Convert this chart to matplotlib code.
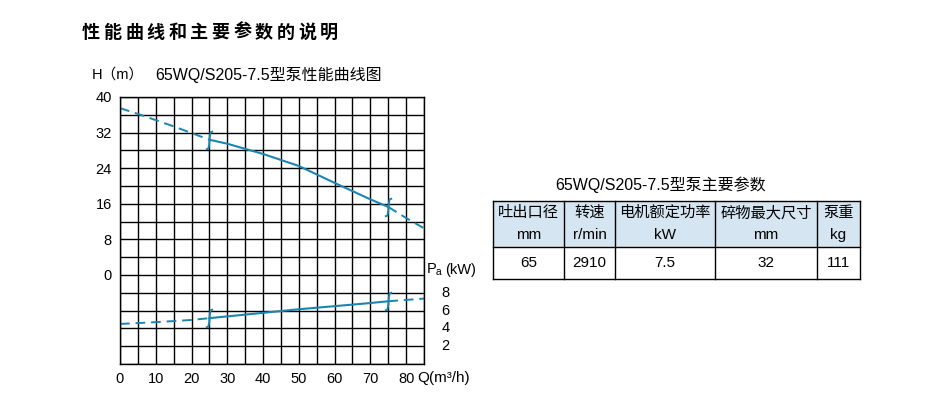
import numpy as np
import matplotlib
matplotlib.use("Agg")
import matplotlib.pyplot as plt
from matplotlib.path import Path
from matplotlib.patches import Rectangle

plt.rcParams['font.family'] = ['Liberation Sans', 'Noto Sans CJK SC', 'DejaVu Sans']
plt.rcParams['mathtext.fontset'] = 'custom'
plt.rcParams['mathtext.rm'] = 'Liberation Sans'
plt.rcParams['mathtext.it'] = 'Liberation Sans'

# performance data
q_head = [0, 5, 10, 15, 20, 25, 30, 40, 50, 60, 70, 75, 80, 85]
head = [37.5, 36.2, 34.8, 33.4, 31.9, 30.4, 29.5, 27.2, 24.5, 20.7, 17.0, 15.3, 12.8, 10.5]
q_pow = [0, 10, 20, 25, 30, 40, 50, 60, 70, 75, 80, 85]
power = [4.5, 4.7, 4.95, 5.15, 5.35, 5.75, 6.15, 6.5, 6.85, 7.05, 7.2, 7.35]
q_range = [25, 75]  # recommended working range

h_ticks = [0, 8, 16, 24, 32, 40]
p_ticks = [2, 4, 6, 8]
q_ticks = [0, 10, 20, 30, 40, 50, 60, 70, 80]

# parameter table
table_title = "65WQ/S205-7.5型泵主要参数"
col_names = ["吐出口径", "转速", "电机额定功率", "碎物最大尺寸", "泵重"]
col_units = ["mm", "r/min", "kW", "mm", "kg"]
col_values = ["65", "2910", "7.5", "32", "111"]

W, H = 927, 398
CURVE = '#1a86b0'

fig = plt.figure(figsize=(W / 100, H / 100), dpi=100)

# main chart axes, power is plotted on the lower part: H = -20 + 2 * P
ax = fig.add_axes([120 / W, 1 - 364 / H, (424 - 120) / W, (364 - 97) / H])
ax.set_xlim(0, 85)
ax.set_ylim(-20, 40)
ax.set_xticks(np.arange(0, 86, 5), minor=True)
ax.set_yticks(np.arange(-20, 41, 4), minor=True)
ax.set_xticks(q_ticks)
ax.set_xticklabels([str(v) for v in q_ticks], fontsize=10.5)
ax.set_yticks(h_ticks)
ax.set_yticklabels([str(v) for v in h_ticks], fontsize=10.5)
ax.grid(which='both', color='black', lw=1.0)
ax.tick_params(which='both', length=0, pad=6)
for s in ax.spines.values():
    s.set_linewidth(1.0)


def p_to_h(p):
    return -20 + 2 * np.asarray(p, dtype=float)


mark = Path([(0.4, 1.0), (0.12, 0.9), (0.03, 0.4), (0.0, 0.0),
             (-0.03, -0.4), (-0.12, -0.9), (-0.4, -1.0)],
            [Path.MOVETO] + [Path.LINETO] * 6)


def draw_curve(qs, ys):
    qs = np.asarray(qs, dtype=float)
    ys = np.asarray(ys, dtype=float)
    lo, hi = q_range
    m1 = qs <= lo
    m2 = (qs >= lo) & (qs <= hi)
    m3 = qs >= hi
    ax.plot(qs[m1], ys[m1], color=CURVE, lw=1.4, ls=(0, (5, 3)))
    ax.plot(qs[m2], ys[m2], color=CURVE, lw=1.5)
    ax.plot(qs[m3], ys[m3], color=CURVE, lw=1.4, ls=(0, (5, 3)))
    # small integral-like marks at range limits
    yy = np.interp(q_range, qs, ys)
    ax.plot(q_range, yy, ls='none', marker=mark, ms=13, mec=CURVE, mfc='none', mew=1.4)


draw_curve(q_head, head)
draw_curve(q_pow, p_to_h(power))

for p in p_ticks:
    ax.text(1.07, p_to_h(p), str(p), transform=ax.get_yaxis_transform(),
            ha='center', va='center', fontsize=10.5)

# overlay axes in pixel coordinates for text and table
ov = fig.add_axes([0, 0, 1, 1])
ov.set_xlim(0, W)
ov.set_ylim(H, 0)
ov.axis('off')

title = "性能曲线和主要参数的说明"
for i, ch in enumerate(title):
    ov.text(82 + i * 21.6, 32, ch, fontsize=13, fontweight='bold', ha='left', va='center',
            family=['Noto Sans CJK SC'])

ov.text(92, 75, "H（m）", fontsize=10.5, ha='left', va='center')
ov.text(155, 75, "65WQ/S205-7.5型泵性能曲线图", fontsize=11.5, ha='left', va='center')
ov.text(417, 378, "Q(m³/h)", fontsize=11, ha='left', va='center')
ov.text(426, 270, r"P$_{\rm a}$", fontsize=10.5, ha='left', va='center')
ov.text(445, 270, "(kW)", fontsize=10.5, ha='left', va='center')

# table
xs = [493, 564, 615, 715, 817, 860]
y_top, y_mid, y_bot = 201, 247, 279
ov.text(661, 185, table_title, fontsize=11.5, ha='center', va='center')
ov.add_patch(Rectangle((xs[0], y_top), xs[-1] - xs[0], y_mid - y_top,
                       facecolor='#d5e5f1', edgecolor='none'))
for x in xs:
    ov.plot([x, x], [y_top, y_bot], color='black', lw=1.0)
for y in [y_top, y_mid, y_bot]:
    ov.plot([xs[0], xs[-1]], [y, y], color='black', lw=1.0)
for i in range(len(col_names)):
    cx = (xs[i] + xs[i + 1]) / 2
    ov.text(cx, 213, col_names[i], fontsize=11, ha='center', va='center')
    ov.text(cx, 235, col_units[i], fontsize=11, ha='center', va='center')
    ov.text(cx, 263, col_values[i], fontsize=11, ha='center', va='center')

fig.savefig("out.png", dpi=100)
